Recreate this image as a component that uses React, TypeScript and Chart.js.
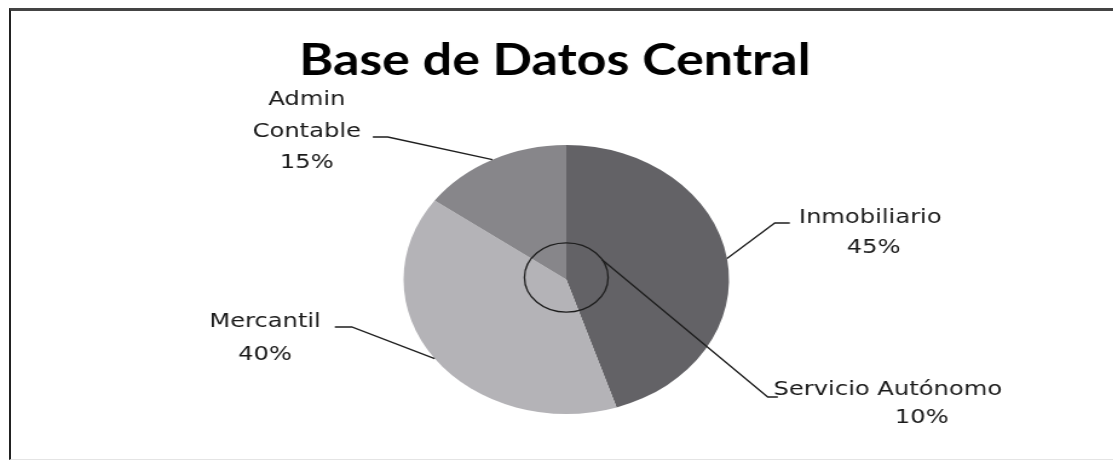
import React, { useEffect, useRef } from 'react';
import { Chart, registerables } from 'chart.js';

Chart.register(...registerables);

// ---- data ----
const TITLE = 'Base de Datos Central';
const categories = ['Inmobiliario', 'Mercantil', 'Admin Contable'];
const shares = [45, 40, 15];
const categoryLines = [['Inmobiliario'], ['Mercantil'], ['Admin', 'Contable']];
const centerLabel = 'Servicio Autónomo';
const centerShare = 10;

// ---- styles / layout ----
const SLICE_COLORS = ['#636266', '#b4b3b7', '#87868a'];
const STRETCH_X = 1.21;
const W = Math.round(1113 / STRETCH_X);
const H = 463;
const PIE_PADDING = { left: 333, right: W - 333 - 270, top: 145, bottom: 49 };
const LABEL_FONT = '20px "DejaVu Sans"';
const TITLE_FONT = 'bold 43px Lato';

// offsets relative to pie centre (canvas px, before horizontal stretch)
const LABEL_LAYOUT = [
  { elbow: [172.3, -56.5], end: 184.7, textX: 251.2, baseY: -56.5, pctX: 254, lineH: 30 },
  { elbow: [-177.3, 47.5], end: -191.3, textX: -249, baseY: 47.5, pctX: -249, lineH: 33 },
  { elbow: [-147.5, -142.5], end: -159.9, textX: -214.5, baseY: -174.5, pctX: -214.5, lineH: 31.5 },
];
const CENTER_LAYOUT = {
  radiusFrac: 0.257, leaderDeg: 59, elbow: [166.5, 117.5], end: 174.8,
  textX: 265.7, baseY: 115.5, pctX: 293.8, lineH: 28,
};

const annotationPlugin = {
  id: 'pieAnnotations',
  afterDatasetsDraw(chart: any) {
    const ctx = chart.ctx as CanvasRenderingContext2D;
    const meta = chart.getDatasetMeta(0);
    const first = meta.data[0];
    const cx = first.x, cy = first.y, r = first.outerRadius;
    const total = shares.reduce((a, b) => a + b, 0);
    ctx.save();
    // title
    ctx.fillStyle = '#000';
    ctx.font = TITLE_FONT;
    ctx.textAlign = 'center';
    ctx.textBaseline = 'alphabetic';
    ctx.fillText(TITLE, cx - 9.5, 75);

    ctx.strokeStyle = '#1e1e1e';
    ctx.lineWidth = 1.3;
    ctx.font = LABEL_FONT;
    ctx.fillStyle = '#1a1a1a';

    meta.data.forEach((arc: any, i: number) => {
      const L = LABEL_LAYOUT[i];
      const mid = (arc.startAngle + arc.endAngle) / 2;
      const px = cx + Math.cos(mid) * r;
      const py = cy + Math.sin(mid) * r;
      const ex = cx + L.elbow[0], ey = cy + L.elbow[1];
      ctx.beginPath();
      ctx.moveTo(px, py);
      ctx.lineTo(ex, ey);
      ctx.lineTo(cx + L.end, ey);
      ctx.stroke();
      const lines = categoryLines[i];
      lines.forEach((t, j) => {
        ctx.fillText(t, cx + L.textX, cy + L.baseY + j * L.lineH);
      });
      const pct = Math.round((shares[i] / total) * 100);
      ctx.fillText(`${pct}%`, cx + L.pctX, cy + L.baseY + lines.length * L.lineH);
    });

    // centre circle (Servicio Autónomo)
    const C = CENTER_LAYOUT;
    const r2 = r * C.radiusFrac;
    ctx.beginPath();
    ctx.arc(cx, cy - 2, r2, 0, Math.PI * 2);
    ctx.stroke();
    const a = ((C.leaderDeg - 90) * Math.PI) / 180;
    ctx.beginPath();
    ctx.moveTo(cx + Math.cos(a) * r2, cy - 2 + Math.sin(a) * r2);
    ctx.lineTo(cx + C.elbow[0], cy + C.elbow[1]);
    ctx.lineTo(cx + C.end, cy + C.elbow[1]);
    ctx.stroke();
    ctx.fillText(centerLabel, cx + C.textX, cy + C.baseY);
    ctx.fillText(`${centerShare}%`, cx + C.pctX, cy + C.baseY + C.lineH);
    ctx.restore();
  },
};

export default function App() {
  const ref = useRef<HTMLCanvasElement>(null);
  useEffect(() => {
    document.body.style.margin = '0';
    const chart = new Chart(ref.current as HTMLCanvasElement, {
      type: 'pie',
      data: {
        labels: categories,
        datasets: [{ data: shares, backgroundColor: SLICE_COLORS, borderWidth: 0 }],
      },
      options: {
        responsive: false,
        animation: false,
        events: [],
        layout: { padding: PIE_PADDING },
        plugins: {
          legend: { display: false },
          title: { display: false },
          tooltip: { enabled: false },
        },
      },
      plugins: [annotationPlugin],
    } as any);
    return () => chart.destroy();
  }, []);
  return (
    <div style={{ position: 'relative', width: 1113, height: 463, overflow: 'hidden', background: '#fff' }}>
      <div
        style={{
          position: 'absolute', left: 0, top: 0, width: W, height: H,
          transform: `scaleX(${STRETCH_X})`, transformOrigin: '0 0',
        }}
      >
        <canvas ref={ref} width={W} height={H} style={{ display: 'block' }} />
      </div>
      <div
        style={{
          position: 'absolute', left: 9, top: 8, width: 1120, height: 448,
          borderTop: '3px solid #444', borderLeft: '2px solid #222',
          borderBottom: '1px solid #e4e4e4', pointerEvents: 'none',
        }}
      />
    </div>
  );
}
